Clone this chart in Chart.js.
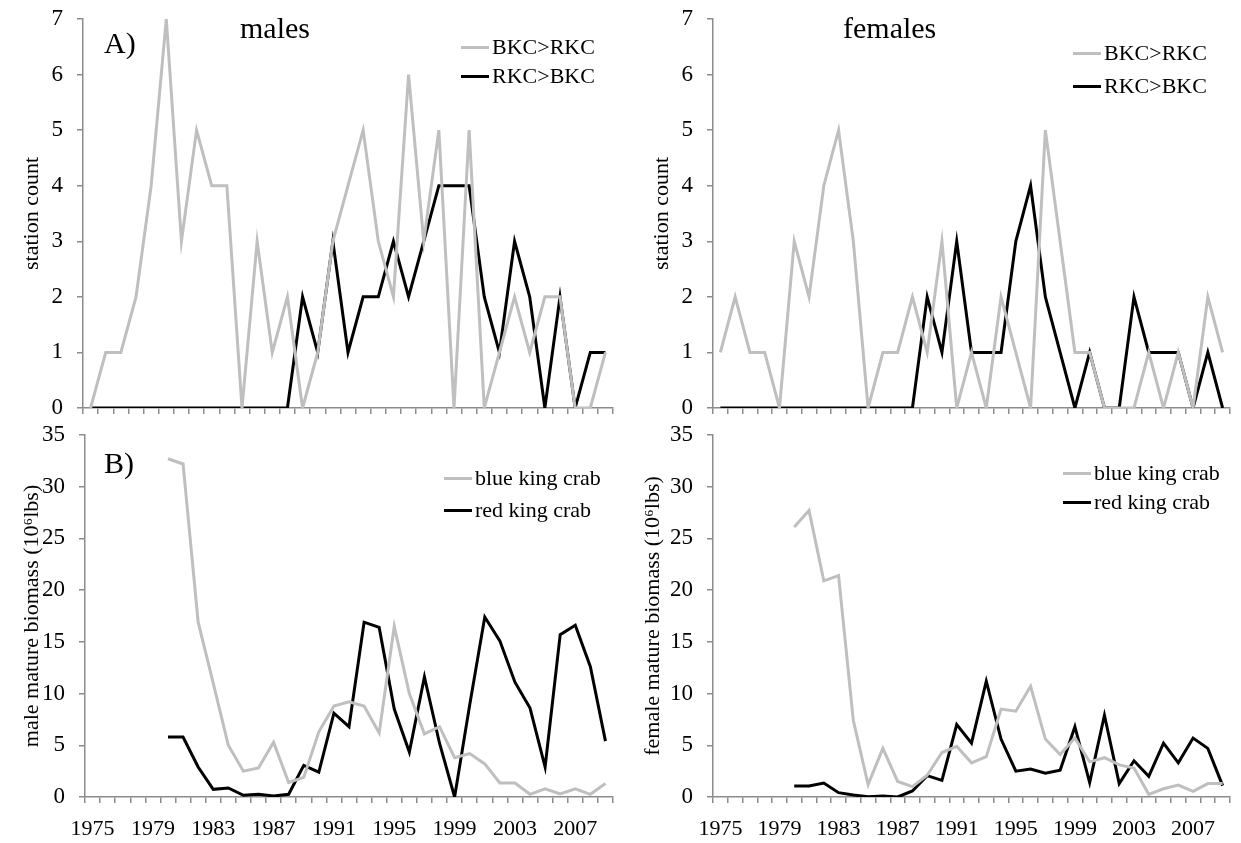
<!DOCTYPE html>
<html lang="en">
<head>
    <meta charset="UTF-8">
    <title>King crab station counts and mature biomass</title>
    <script src="https://cdn.jsdelivr.net/npm/chart.js"></script>
    <style>
        body {
            margin: 0;
            background: #fff;
            font-family: 'Liberation Serif', 'Times New Roman', serif;
        }
        #wrap {
            position: relative;
            width: 1241px;
            height: 843px;
            overflow: hidden;
        }
        canvas { position: absolute; }
        .note {
            position: absolute;
            font-size: 30px;
            line-height: 30px;
            color: #000;
            white-space: nowrap;
            transform: translateY(-50%);
        }
        .leg {
            position: absolute;
            font-size: 22px;
            line-height: 22px;
            color: #000;
            white-space: nowrap;
            transform: translateY(-50%);
            display: flex;
            align-items: center;
        }
        .leg span.sw {
            display: inline-block;
            width: 28px;
            height: 3px;
            margin-right: 3px;
        }
    </style>
</head>
<body>
<div id="wrap">
    <canvas id="maleCount"></canvas>
    <canvas id="femaleCount"></canvas>
    <canvas id="maleBio"></canvas>
    <canvas id="femaleBio"></canvas>
</div>

<script>
    const years = ['1975','1976','1977','1978','1979','1980','1981','1982','1983','1984',
                   '1985','1986','1987','1988','1989','1990','1991','1992','1993','1994',
                   '1995','1996','1997','1998','1999','2000','2001','2002','2003','2004',
                   '2005','2006','2007','2008','2009'];

    // A) station counts
    const maleBkcGtRkc   = [0,1,1,2,4,7,3,5,4,4,0,3,1,2,0,1,3,4,5,3,2,6,3,5,0,5,0,1,2,1,2,2,0,0,1];
    const maleRkcGtBkc   = [0,0,0,0,0,0,0,0,0,0,0,0,0,0,2,1,3,1,2,2,3,2,3,4,4,4,2,1,3,2,0,2,0,1,1];
    const femaleBkcGtRkc = [1,2,1,1,0,3,2,4,5,3,0,1,1,2,1,3,0,1,0,2,1,0,5,3,1,1,0,0,0,1,0,1,0,2,1];
    const femaleRkcGtBkc = [0,0,0,0,0,0,0,0,0,0,0,0,0,0,2,1,3,1,1,1,3,4,2,1,0,1,0,0,2,1,1,1,0,1,0];

    // B) mature biomass (10^6 lbs)
    const maleBlue   = [null,null,null,null,null,32.7,32.2,16.9,11.0,5.0,2.5,2.8,5.3,1.4,1.9,6.3,8.8,9.2,8.8,6.2,
                        16.5,10.0,6.1,6.8,3.8,4.2,3.2,1.35,1.35,0.26,0.8,0.3,0.8,0.26,1.3];
    const maleRed    = [null,null,null,null,null,5.8,5.8,2.9,0.74,0.87,0.16,0.26,0.1,0.26,3.06,2.4,8.1,6.8,16.9,16.4,
                        8.5,4.35,11.6,5.2,0,8.9,17.4,15.1,11.1,8.6,2.9,15.7,16.6,12.6,5.4];
    const femaleBlue = [null,null,null,null,null,26.1,27.7,20.9,21.4,7.4,1.2,4.7,1.5,1.0,2.1,4.3,4.9,3.3,3.9,8.5,
                        8.3,10.7,5.6,4.1,5.7,3.4,3.8,3.1,2.8,0.26,0.8,1.16,0.55,1.3,1.3];
    const femaleRed  = [null,null,null,null,null,1.06,1.06,1.35,0.42,0.2,0.02,0.1,0,0.58,2.06,1.6,7.0,5.2,11.2,5.6,
                        2.5,2.7,2.3,2.6,6.8,1.4,7.9,1.3,3.5,2.0,5.2,3.3,5.7,4.7,1.1];

    const GREY = '#bfbfbf';
    const AXIS = '#8c8c8c';
    const FONT = "'Liberation Serif', 'Times New Roman', serif";

    // p: box of the canvas + where the plot area must sit
    function makeChart(id, p) {
        const cv = document.getElementById(id);
        cv.style.left = p.x + 'px';
        cv.style.top = p.y + 'px';
        cv.width = p.w;
        cv.height = p.h;
        cv.style.width = p.w + 'px';
        cv.style.height = p.h + 'px';

        const chart = new Chart(cv.getContext('2d'), {
            type: 'line',
            data: {
                labels: years,
                datasets: [
                    { label: p.labels[0], data: p.grey, borderColor: GREY, borderWidth: 3 },
                    { label: p.labels[1], data: p.black, borderColor: '#000', borderWidth: 3 }
                ]
            },
            options: {
                responsive: false,
                animation: false,
                events: [],
                elements: {
                    line: { tension: 0, fill: false },
                    point: { radius: 0 }
                },
                layout: { padding: { top: p.padTop, right: p.padRight, left: 0, bottom: 0 } },
                plugins: { legend: { display: false }, tooltip: { enabled: false } },
                scales: {
                    x: {
                        type: 'category',
                        offset: true,
                        border: { color: AXIS, width: 1.5 },
                        grid: { offset: true, drawOnChartArea: false, color: AXIS, tickLength: 6, lineWidth: 1.5 },
                        ticks: {
                            display: p.showX,
                            autoSkip: false,
                            maxRotation: 0,
                            padding: 13,
                            color: '#000',
                            font: { family: FONT, size: 22 },
                            callback: function (v, i) { return i % 4 === 0 ? years[i] : ''; }
                        },
                        afterFit: function (s) { s.height = p.xH; }
                    },
                    y: {
                        min: 0,
                        max: p.yMax,
                        border: { color: AXIS, width: 1.5 },
                        grid: { drawOnChartArea: false, color: AXIS, tickLength: 6, lineWidth: 1.5 },
                        ticks: {
                            stepSize: p.step,
                            padding: 14,
                            color: '#000',
                            font: { family: FONT, size: 23 }
                        },
                        title: {
                            display: true,
                            text: p.yTitle,
                            color: '#000',
                            font: { family: FONT, size: 22 },
                            padding: { top: p.titlePad, bottom: 0 }
                        },
                        afterFit: function (s) {
                            s.width = p.yW;
                            // plot area is placed by layout padding only
                            s.paddingTop = 0;
                            s.paddingBottom = 0;
                        }
                    }
                }
            }
        });

        // legend built from the dataset labels
        const wrap = document.getElementById('wrap');
        chart.data.datasets.forEach(function (ds, k) {
            const d = document.createElement('div');
            d.className = 'leg';
            d.style.left = p.legX + 'px';
            d.style.top = p.legY[k] + 'px';
            d.innerHTML = '<span class="sw" style="background:' + ds.borderColor + '"></span>' + ds.label;
            wrap.appendChild(d);
        });
        return chart;
    }

    makeChart('maleCount', {
        x: 0, y: 0, w: 620, h: 430, padTop: 19, padRight: 7, xH: 22, yW: 83,
        yMax: 7, step: 1, yTitle: 'station count', titlePad: 19, showX: false,
        labels: ['BKC>RKC', 'RKC>BKC'], grey: maleBkcGtRkc, black: maleRkcGtBkc,
        legX: 461, legY: [47, 76]
    });
    makeChart('femaleCount', {
        x: 620, y: 0, w: 620, h: 430, padTop: 19, padRight: 10, xH: 22, yW: 93,
        yMax: 7, step: 1, yTitle: 'station count', titlePad: 29, showX: false,
        labels: ['BKC>RKC', 'RKC>BKC'], grey: femaleBkcGtRkc, black: femaleRkcGtBkc,
        legX: 1073, legY: [53, 86]
    });
    makeChart('maleBio', {
        x: 0, y: 420, w: 620, h: 423, padTop: 15, padRight: 7, xH: 46, yW: 85,
        yMax: 35, step: 5, yTitle: 'male mature biomass (10\u2076lbs)', titlePad: 19, showX: true,
        labels: ['blue king crab', 'red king crab'], grey: maleBlue, black: maleRed,
        legX: 444, legY: [478, 510]
    });
    makeChart('femaleBio', {
        x: 620, y: 420, w: 620, h: 423, padTop: 15, padRight: 10, xH: 46, yW: 93,
        yMax: 35, step: 5, yTitle: 'female mature biomass (10\u2076lbs)', titlePad: 20, showX: true,
        labels: ['blue king crab', 'red king crab'], grey: femaleBlue, black: femaleRed,
        legX: 1063, legY: [473, 502]
    });

    // panel notes
    [['A)', 104, 43], ['males', 240, 28], ['females', 843, 28], ['B)', 104, 463]].forEach(function (n) {
        const d = document.createElement('div');
        d.className = 'note';
        d.textContent = n[0];
        d.style.left = n[1] + 'px';
        d.style.top = n[2] + 'px';
        document.getElementById('wrap').appendChild(d);
    });
</script>
</body>
</html>
